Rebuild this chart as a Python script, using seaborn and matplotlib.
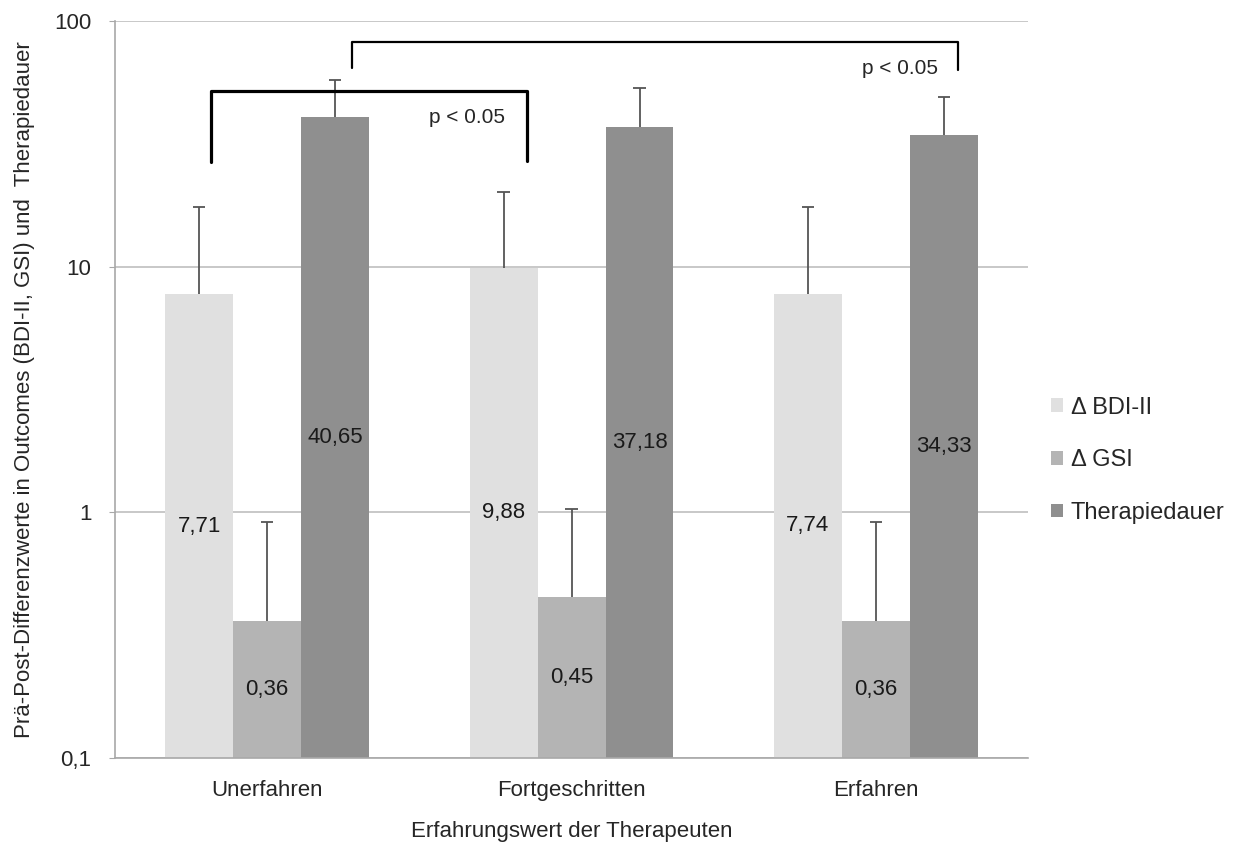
import pandas as pd
import matplotlib.pyplot as plt
import seaborn as sns
from matplotlib.patches import Patch

# Values
categories = ['Unerfahren', 'Fortgeschritten', 'Erfahren']
series = ['Δ BDI-II', 'Δ GSI', 'Therapiedauer']
bdi = [7.71, 9.88, 7.74]
gsi = [0.36, 0.45, 0.36]
dauer = [40.65, 37.18, 34.33]
bdi_err = [9.7, 10.2, 9.7]
gsi_err = [0.55, 0.58, 0.55]
dauer_err = [17.0, 16.0, 14.5]
colors = ['#e0e0e0', '#b4b4b4', '#8f8f8f']
yticks = [0.1, 1, 10, 100]
ytick_labels = ['0,1', '1', '10', '100']

df = pd.DataFrame({
    'Gruppe': categories * 3,
    'Serie': [s for s in series for _ in categories],
    'Wert': bdi + gsi + dauer,
})
errs = [bdi_err, gsi_err, dauer_err]

sns.set_style('white')
plt.rcParams['font.family'] = ['Liberation Sans', 'DejaVu Sans']

fig = plt.figure(figsize=(12.41, 8.63), dpi=100)
ax = fig.add_axes([0.0927, 0.1217, 0.7357, 0.854])

sns.barplot(data=df, x='Gruppe', y='Wert', hue='Serie', order=categories,
            hue_order=series, palette=colors, width=0.67, gap=0,
            errorbar=None, legend=False, ax=ax, saturation=1, linewidth=0)
ax.set_yscale('log')
ax.set_ylim(0.1, 100)
ax.set_xlim(-0.5, 2.5)

# error bars (upper only, one cap) and labels inside the bars
for cont, err in zip(ax.containers, errs):
    for bar, e in zip(cont, err):
        xc = bar.get_x() + bar.get_width() / 2
        h = bar.get_height()
        ax.vlines(xc, h, h + e, color='#555555', linewidth=1.3, zorder=3)
        ax.hlines(h + e, xc - 0.02, xc + 0.02, color='#555555',
                  linewidth=1.3, zorder=3)
        ymid = (0.1 * h) ** 0.5
        ax.text(xc, ymid, f'{h:.2f}'.replace('.', ','), ha='center',
                va='center', fontsize=16, color='#1a1a1a', zorder=4)

# grid and axes styling
ax.set_yticks(yticks)
ax.set_yticklabels(ytick_labels)
ax.yaxis.set_minor_locator(plt.NullLocator())
ax.grid(axis='y', which='major', color='#c4c4c4', linewidth=1.3)
ax.set_axisbelow(True)
for s in ['top', 'right']:
    ax.spines[s].set_visible(False)
for s in ['left', 'bottom']:
    ax.spines[s].set_color('#a8a8a8')
    ax.spines[s].set_linewidth(1.2)
ax.set_xticks([-0.5, 0.5, 1.5, 2.5], minor=True)
ax.tick_params(axis='x', which='major', length=0, pad=16, labelsize=16)
ax.tick_params(axis='x', which='minor', length=6, color='#a8a8a8', width=1.2)
ax.tick_params(axis='y', which='major', length=4, color='#a8a8a8', pad=13,
               labelsize=16, left=True)

ax.set_xlabel('Erfahrungswert der Therapeuten', fontsize=16, labelpad=14)
ax.set_ylabel('Prä-Post-Differenzwerte in Outcomes (BDI-II, GSI) und  Therapiedauer',
              fontsize=16, labelpad=14)

# significance brackets
ax.plot([-0.184, -0.184, 0.852, 0.852], [26.6, 51.7, 51.7, 27.0],
        color='black', linewidth=2.3, clip_on=False, zorder=5)
ax.text(0.655, 40.5, 'p < 0.05', ha='center', va='center', fontsize=15)
ax.plot([0.28, 0.28, 2.27, 2.27], [64.1, 81.8, 81.8, 63.0],
        color='black', linewidth=1.6, clip_on=False, zorder=5)
ax.text(2.08, 64.1, 'p < 0.05', ha='center', va='center', fontsize=15)

# legend on the right
handles = [Patch(facecolor=c, edgecolor='none') for c in colors]
ax.legend(handles, series, loc='center left', bbox_to_anchor=(1.012, 0.404),
          frameon=False, fontsize=17, handlelength=0.5, handleheight=0.5,
          handletextpad=0.35, labelspacing=1.3, borderpad=0)

plt.savefig('out.png', dpi=100)
